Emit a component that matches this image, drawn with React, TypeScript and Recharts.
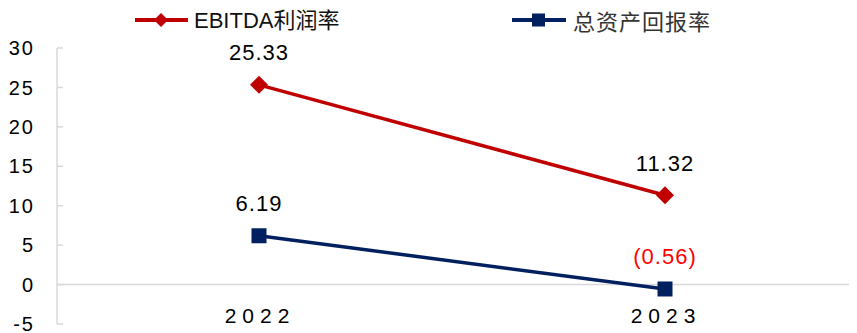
import React from 'react';
import { LineChart, Line, XAxis, YAxis, ReferenceLine, LabelList } from 'recharts';

const categories = ['2022', '2023'];
const ebitdaMargin = [25.33, 11.32];
const roa = [6.19, -0.56];
const yTicks = [-5, 0, 5, 10, 15, 20, 25, 30];
const seriesNames = ['EBITDA利润率', '总资产回报率'];

const data = categories.map((c, i) => ({ year: c, ebitda: ebitdaMargin[i], roa: roa[i] }));

const RED = '#C00000';
const NAVY = '#002060';
const FONT = '"Liberation Sans", Arial, sans-serif';

const Diamond = (props: any) => {
  const { cx, cy } = props;
  if (cx == null || cy == null) return null;
  const s = 9;
  return <polygon points={`${cx},${cy - s} ${cx + s},${cy} ${cx},${cy + s} ${cx - s},${cy}`} fill={RED} />;
};

const Square = (props: any) => {
  const { cx, cy } = props;
  if (cx == null || cy == null) return null;
  const s = 7.5;
  return <rect x={cx - s} y={cy - s} width={2 * s} height={2 * s} fill={NAVY} />;
};

const fmt = (v: number) => (v < 0 ? `(${Math.abs(v).toFixed(2)})` : v.toFixed(2));

const ValueLabel = (props: any) => {
  const { x, y, value } = props;
  return (
    <text
      x={x}
      y={y - 32}
      textAnchor="middle"
      dominantBaseline="central"
      fontFamily={FONT}
      fontSize={22}
      letterSpacing={1}
      fill={value < 0 ? '#FF0000' : '#000000'}
    >
      {fmt(value)}
    </text>
  );
};

const XTick = (props: any) => {
  const { x, y, payload } = props;
  return (
    <text
      x={x + 1}
      y={y - 9}
      textAnchor="middle"
      dominantBaseline="central"
      fontFamily={FONT}
      fontSize={21}
      letterSpacing={6}
      fill="#000000"
    >
      {payload.value}
    </text>
  );
};

const LegendOverlay = () => (
  <svg width={849} height={30} style={{ display: 'block', position: 'absolute', top: 0, left: 0 }}>
    <line x1={127} y1={12} x2={180} y2={12} stroke={RED} strokeWidth={4} />
    <polygon points="153,5 160,12 153,19 146,12" fill={RED} />
    <text x={186} y={12} dominantBaseline="central" fontFamily={`${FONT}, "Noto Sans CJK SC"`} fontSize={22} fill="#111111">
      {seriesNames[0]}
    </text>
    <line x1={504} y1={12} x2={558} y2={12} stroke={NAVY} strokeWidth={4} />
    <rect x={524} y={5.5} width={13} height={13} fill={NAVY} />
    <text x={565} y={12} dominantBaseline="central" fontFamily='"Noto Sans CJK SC", sans-serif' fontSize={22} letterSpacing={1} fill="#333333">
      {seriesNames[1]}
    </text>
  </svg>
);

export default function App() {
  return (
    <div style={{ width: 849, height: 325, overflow: 'hidden', position: 'relative' }}>
      <LineChart width={861} height={325} data={data} margin={{ top: 40, right: 0, bottom: 8, left: 0 }}>
        <XAxis
          dataKey="year"
          axisLine={false}
          tickLine={false}
          tickSize={0}
          tickMargin={0}
          height={1}
          tick={<XTick />}
          interval={0}
          padding={{ left: 202, right: 204 }}
        />
        <YAxis
          domain={[-5, 30]}
          ticks={yTicks}
          interval={0}
          width={49}
          axisLine={{ stroke: '#D9D9D9', strokeWidth: 1.5 }}
          tickLine={{ stroke: '#D9D9D9', strokeWidth: 1.5 }}
          tickSize={-6}
          tickMargin={28}
          tick={{ fontFamily: FONT, fontSize: 20, fill: '#000000', letterSpacing: 2 }}
        />
        <ReferenceLine y={0} stroke="#D9D9D9" strokeWidth={1.5} />
        <Line
          type="linear"
          dataKey="ebitda"
          stroke={RED}
          strokeWidth={3.5}
          dot={<Diamond />}
          activeDot={false}
          isAnimationActive={false}
        >
          <LabelList dataKey="ebitda" content={<ValueLabel />} />
        </Line>
        <Line
          type="linear"
          dataKey="roa"
          stroke={NAVY}
          strokeWidth={3.5}
          dot={<Square />}
          activeDot={false}
          isAnimationActive={false}
        >
          <LabelList dataKey="roa" content={<ValueLabel />} />
        </Line>
      </LineChart>
      <LegendOverlay />
    </div>
  );
}
